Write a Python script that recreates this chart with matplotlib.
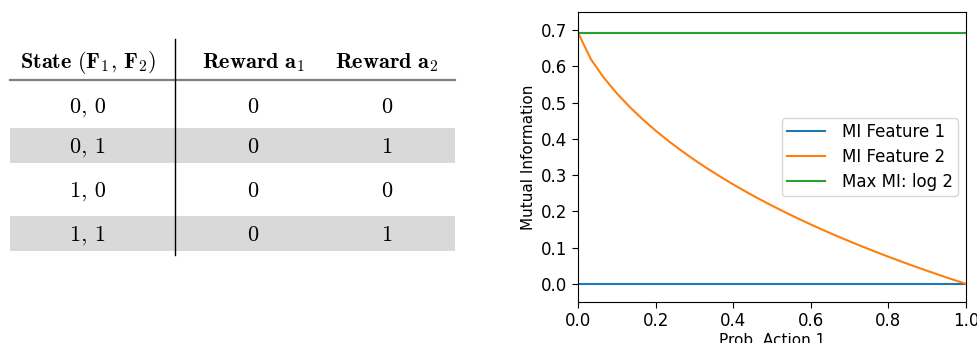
import numpy as np
import matplotlib.pyplot as plt

plt.rcParams['mathtext.fontset'] = 'cm'

# Tabla de recompensas
header = [r'$\mathbf{State\ (F}_\mathbf{1}\mathbf{,\,F}_\mathbf{2}\mathbf{)}$',
          r'$\mathbf{Reward\ a}_\mathbf{1}$',
          r'$\mathbf{Reward\ a}_\mathbf{2}$']
states = ['0, 0', '0, 1', '1, 0', '1, 1']
reward_a1 = [0, 0, 0, 0]
reward_a2 = [0, 1, 0, 1]

# Curvas de informacion mutua
prob_action1 = [0.0, 0.0333, 0.0667, 0.1, 0.1333, 0.1667, 0.2, 0.2333, 0.2667, 0.3,
                0.3333, 0.3667, 0.4, 0.4333, 0.4667, 0.5, 0.5333, 0.5667, 0.6, 0.6333,
                0.6667, 0.7, 0.7333, 0.7667, 0.8, 0.8333, 0.8667, 0.9, 0.9333, 0.9667, 1.0]
mi_feature1 = [0.0, 0.0, 0.0, 0.0, 0.0, 0.0, 0.0, 0.0, 0.0, 0.0,
               0.0, 0.0, 0.0, 0.0, 0.0, 0.0, 0.0, 0.0, 0.0, 0.0,
               0.0, 0.0, 0.0, 0.0, 0.0, 0.0, 0.0, 0.0, 0.0, 0.0, 0.0]
mi_feature2 = [0.6931, 0.6195, 0.5685, 0.5256, 0.4879, 0.4539, 0.4228, 0.3940, 0.3672, 0.3420,
               0.3183, 0.2958, 0.2744, 0.2540, 0.2344, 0.2158, 0.1978, 0.1805, 0.1639, 0.1478,
               0.1323, 0.1173, 0.1027, 0.0886, 0.0749, 0.0616, 0.0486, 0.0360, 0.0237, 0.0117, 0.0]
max_mi_x = [0.0, 1.0]
max_mi = [0.6931, 0.6931]

fig = plt.figure(figsize=(9.78, 3.43), dpi=100)

# --- tabla (coordenadas en pixeles de la figura) ---
ax_t = fig.add_axes([0, 0, 489 / 978, 1])
ax_t.set_xlim(0, 489)
ax_t.set_ylim(343, 0)
ax_t.axis('off')

col_x = [88, 253, 387]
header_y = 68
row_base = [113, 153, 197, 241]
fs = 16

for i in range(len(states)):
    if i % 2 == 1:
        ax_t.fill_between([10, 455], row_base[i] - 25, row_base[i] + 10, color='#d9d9d9', lw=0)
    vals = [states[i], str(reward_a1[i]), str(reward_a2[i])]
    for x, v in zip(col_x, vals):
        ax_t.text(x, row_base[i], v, fontname='cmr10',
                  ha='center', va='baseline', fontsize=fs)

for x, h in zip(col_x, header):
    ax_t.text(x, header_y, h, ha='center', va='baseline', fontsize=fs)

ax_t.plot([10, 455], [80, 80], color='#7f7f7f', lw=1.6)
ax_t.plot([175, 175], [39, 255], color='black', lw=1.0)

# --- grafica ---
ax = fig.add_axes([578 / 978, 1 - 302 / 343, 388 / 978, 290 / 343])
ax.plot(prob_action1, mi_feature1, label='MI Feature 1')
ax.plot(prob_action1, mi_feature2, label='MI Feature 2')
ax.plot(max_mi_x, max_mi, label='Max MI: log 2')
ax.set_xlim(0, 1)
ax.set_ylim(-0.05, 0.75)
ax.set_xticks([0.0, 0.2, 0.4, 0.6, 0.8, 1.0])
ax.set_yticks([0.0, 0.1, 0.2, 0.3, 0.4, 0.5, 0.6, 0.7])
ax.tick_params(labelsize=12, length=4)
ax.set_xlabel('Prob. Action 1', fontsize=11, labelpad=2)
ax.set_ylabel('Mutual Information', fontsize=11)
ax.legend(loc='center right', fontsize=12, handlelength=2.3, labelspacing=0.41,
          borderpad=0.3, handletextpad=1.0)

fig.savefig('out.png', dpi=100)
